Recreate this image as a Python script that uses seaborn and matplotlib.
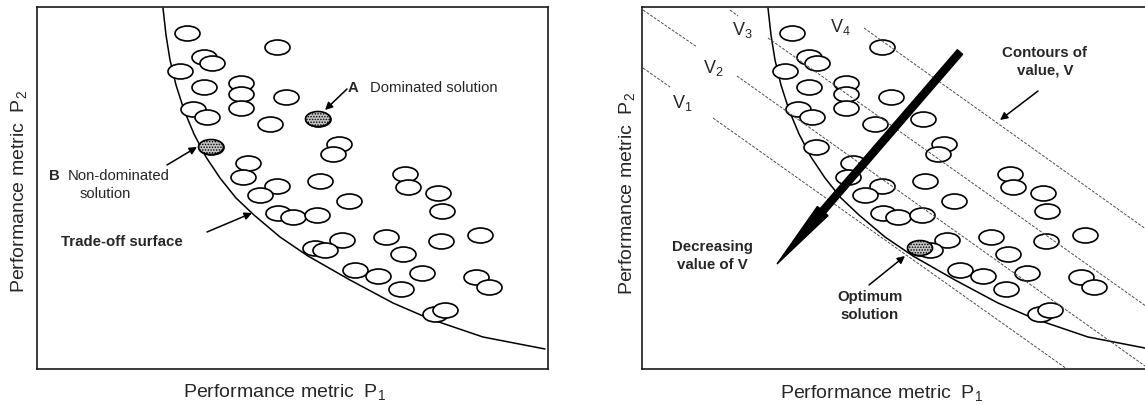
import matplotlib
matplotlib.use("Agg")
import matplotlib.pyplot as plt
import seaborn as sns
from matplotlib.path import Path
from matplotlib.transforms import Affine2D

# candidate solutions (P1, P2) - same cloud in both panels
sol_p1 = [150, 240, 167, 175, 143, 167, 204, 204, 249, 156, 170, 204, 233, 174, 281,
          302, 296, 211, 206, 240, 223, 283, 368, 371, 401, 405, 312, 241, 256, 280,
          349, 305, 278, 288, 404, 443, 366, 318, 341, 385, 364, 439, 452, 398, 408]
sol_p2 = [336, 322, 312, 306, 298, 282, 286, 275, 272, 260, 252, 261, 245, 222, 250,
          225, 215, 206, 192, 183, 174, 188, 195, 182, 176, 158, 168, 156, 152, 154,
          132, 129, 121, 119, 128, 134, 115, 99, 93, 96, 80, 92, 82, 55, 59]
left_marked = [13, 14]   # B (non-dominated), A (dominated)
right_marked = [32]      # optimum solution

# trade-off surface
front_p1 = [126, 129, 133, 139, 147, 157, 169, 183, 199, 217, 243, 271, 313, 356, 393, 446, 508]
front_p2 = [361, 334, 309, 284, 259, 235, 212, 191, 171, 154, 132, 113, 89, 66, 50, 32, 20]

# contours of value (None = gap for the label)
v1_p1 = [1, 28, None, 71, 425]
v1_p2 = [301, 282, None, 251, 0]
v2_p1 = [1, 55, None, 95, 503]
v2_p2 = [359, 322, None, 293, 3]
v3_p1 = [88, 96, None, 126, 508]
v3_p2 = [359, 353, None, 331, 60]
v4_p1 = [222, 508]
v4_p2 = [341, 137]
v_labels = ["V$_1$", "V$_2$", "V$_3$", "V$_4$"]
v_label_p1 = [40, 71, 100, 198]
v_label_p2 = [266, 301, 339, 342]

sns.set_theme(style="white")
plt.rcParams["font.family"] = ["Liberation Sans", "DejaVu Sans"]
plt.rcParams["mathtext.fontset"] = "custom"
plt.rcParams["mathtext.rm"] = "Liberation Sans"
plt.rcParams["mathtext.default"] = "regular"
plt.rcParams["hatch.linewidth"] = 0.7
plt.rcParams["hatch.color"] = "black"

oval = Affine2D().scale(1.0, 0.6).transform_path(Path.unit_circle())

fig = plt.figure(figsize=(11.45, 4.05), dpi=100)
ax1 = fig.add_axes([37 / 1145, 36 / 405, 511 / 1145, 362 / 405])
ax2 = fig.add_axes([642 / 1145, 36 / 405, 508 / 1145, 362 / 405])


def draw_panel(ax, marked, xmax):
    sns.lineplot(x=front_p1, y=front_p2, sort=False, estimator=None,
                 color="black", lw=1.1, ax=ax)
    sns.scatterplot(x=sol_p1, y=sol_p2, marker=oval, s=324, color="white",
                    edgecolor="black", linewidth=1.2, ax=ax, zorder=3)
    sns.scatterplot(x=[sol_p1[i] for i in marked], y=[sol_p2[i] for i in marked],
                    marker=oval, s=324, color="#c4c4c4", edgecolor="black",
                    linewidth=1.2, hatch="......", ax=ax, zorder=3.2)
    ax.set_xlim(0, xmax)
    ax.set_ylim(0, 362)
    ax.set_xticks([])
    ax.set_yticks([])
    for sp in ax.spines.values():
        sp.set_color("0.1")
        sp.set_linewidth(1.2)


draw_panel(ax1, left_marked, 511)
draw_panel(ax2, right_marked, 508)

arrow = dict(arrowstyle="-|>", color="black", lw=1.1, mutation_scale=11,
             shrinkA=0, shrinkB=0)
fs_reg = 10.7
fs_bold = 10.8

# left panel
ax1.set_xlabel("Performance metric  P$_1$", fontsize=14)
ax1.set_ylabel("Performance metric  P$_2$", fontsize=14)
ax1.xaxis.set_label_coords(0.485, -0.035)
ax1.yaxis.set_label_coords(-0.016, 0.49)
ax1.text(316, 281, "A", weight="bold", ha="center", va="center", fontsize=fs_reg)
ax1.text(333, 281, "Dominated solution", ha="left", va="center", fontsize=fs_reg)
ax1.annotate("", xy=(288, 259), xytext=(310, 280), arrowprops=arrow)
ax1.text(17, 193, "B", weight="bold", ha="center", va="center", fontsize=fs_reg)
ax1.text(31, 193, "Non-dominated", ha="left", va="center", fontsize=fs_reg)
ax1.text(68, 175, "solution", ha="center", va="center", fontsize=fs_reg)
ax1.annotate("", xy=(160, 222), xytext=(130, 204), arrowprops=arrow)
ax1.text(24, 127, "Trade-off surface", weight="bold", ha="left", va="center", fontsize=fs_bold)
ax1.annotate("", xy=(215, 156), xytext=(170, 137), arrowprops=arrow)

# right panel
for xs, ys in [(v1_p1, v1_p2), (v2_p1, v2_p2), (v3_p1, v3_p2), (v4_p1, v4_p2)]:
    xs = [float("nan") if v is None else v for v in xs]
    ys = [float("nan") if v is None else v for v in ys]
    ax2.plot(xs, ys, color="0.3", lw=0.7, ls=(0, (3, 1.5)), zorder=3.5)
for lab, x, y in zip(v_labels, v_label_p1, v_label_p2):
    ax2.text(x, y, lab, ha="center", va="center", fontsize=13)

ax2.arrow(318, 317, 135 - 318, 105 - 317, width=7, head_width=14, head_length=70,
          length_includes_head=True, color="black", zorder=4)
ax2.text(403, 307, "Contours of\nvalue, V", weight="bold", ha="center", va="center",
         fontsize=fs_bold, linespacing=1.3)
ax2.annotate("", xy=(358, 249), xytext=(396, 278), arrowprops=arrow)
ax2.text(70, 113, "Decreasing\nvalue of V", weight="bold", ha="center", va="center",
         fontsize=fs_bold, linespacing=1.3)
ax2.text(228, 63, "Optimum\nsolution", weight="bold", ha="center", va="center",
         fontsize=fs_bold, linespacing=1.3)
ax2.annotate("", xy=(263, 113), xytext=(227, 84), arrowprops=arrow)
ax2.set_xlabel("Performance metric  P$_1$", fontsize=14)
ax2.set_ylabel("Performance metric  P$_2$", fontsize=14)
ax2.xaxis.set_label_coords(0.472, -0.04)
ax2.yaxis.set_label_coords(-0.01, 0.486)

fig.savefig("out.png", dpi=100)
